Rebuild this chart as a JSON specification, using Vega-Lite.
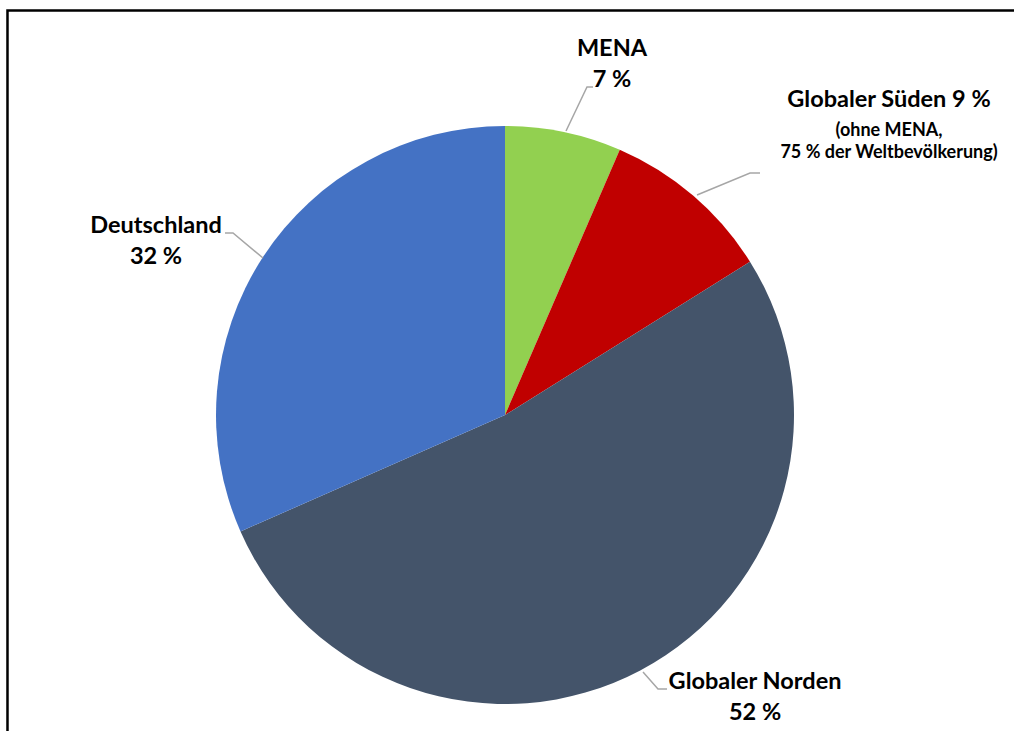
{
  "$schema": "https://vega.github.io/schema/vega-lite/v6.json",
  "width": 1014,
  "height": 731,
  "autosize": {"type": "fit", "contains": "padding"},
  "padding": 0,
  "background": "white",
  "config": {"view": {"stroke": null}},
  "datasets": {
    "slices": [
      {"region": "MENA", "share": 6.5, "ord": 1},
      {"region": "Globaler Süden", "share": 9.6, "ord": 2},
      {"region": "Globaler Norden", "share": 52.3, "ord": 3},
      {"region": "Deutschland", "share": 31.6, "ord": 4}
    ],
    "leaders": [
      {"id": "MENA", "k": 1, "u": 21.11, "v": 98.27},
      {"id": "MENA", "k": 2, "u": 28.37, "v": 113.49},
      {"id": "MENA", "k": 3, "u": 30.45, "v": 113.49},
      {"id": "Sued", "k": 1, "u": 66.44, "v": 76.12},
      {"id": "Sued", "k": 2, "u": 84.78, "v": 83.74},
      {"id": "Sued", "k": 3, "u": 88.24, "v": 83.74},
      {"id": "DE", "k": 1, "u": -96.89, "v": 62.98},
      {"id": "DE", "k": 2, "u": -94.12, "v": 62.98},
      {"id": "DE", "k": 3, "u": -83.74, "v": 54.33},
      {"id": "Nord", "k": 1, "u": 47.75, "v": -88.93},
      {"id": "Nord", "k": 2, "u": 52.94, "v": -94.81},
      {"id": "Nord", "k": 3, "u": 56.06, "v": -94.81}
    ],
    "frame": [
      {"k": 1, "u": -172.15, "v": -112},
      {"k": 2, "u": -172.15, "v": 139.97},
      {"k": 3, "u": 180, "v": 139.97}
    ],
    "labels": [
      {"t": "MENA", "u": 37.02, "v": 126.64, "big": "yes"},
      {"t": "7 %", "u": 37.02, "v": 115.92, "big": "yes"},
      {"t": "Globaler Süden 9 %", "u": 132.87, "v": 109.0, "big": "yes"},
      {"t": "(ohne MENA,", "u": 132.87, "v": 98.27, "big": "no"},
      {"t": "75 % der Weltbevölkerung)", "u": 132.87, "v": 90.66, "big": "no"},
      {"t": "Deutschland", "u": -120.76, "v": 65.40, "big": "yes"},
      {"t": "32 %", "u": -120.76, "v": 54.67, "big": "yes"},
      {"t": "Globaler Norden", "u": 86.51, "v": -92.39, "big": "yes"},
      {"t": "52 %", "u": 86.51, "v": -103.11, "big": "yes"}
    ]
  },
  "layer": [
    {
      "data": {"name": "frame"},
      "mark": {"type": "line", "stroke": "#000000", "strokeWidth": 2.5, "clip": true},
      "encoding": {
        "x": {"field": "u", "type": "quantitative", "scale": {"domain": [-174.74, 176.12], "nice": false, "zero": false}, "axis": null},
        "y": {"field": "v", "type": "quantitative", "scale": {"domain": [-109.34, 143.60], "nice": false, "zero": false}, "axis": null},
        "order": {"field": "k"}
      }
    },
    {
      "data": {"name": "slices"},
      "mark": {"type": "arc", "outerRadius": 289},
      "encoding": {
        "x": {"datum": 0, "type": "quantitative"},
        "y": {"datum": 0, "type": "quantitative"},
        "theta": {"field": "share", "type": "quantitative", "stack": true},
        "order": {"field": "ord"},
        "color": {
          "field": "region", "type": "nominal", "legend": null,
          "scale": {"domain": ["MENA", "Globaler Süden", "Globaler Norden", "Deutschland"], "range": ["#92D050", "#C00000", "#44546A", "#4472C4"]}
        }
      }
    },
    {
      "data": {"name": "leaders"},
      "mark": {"type": "line", "stroke": "#A6A6A6", "strokeWidth": 1.5},
      "encoding": {
        "x": {"field": "u", "type": "quantitative"},
        "y": {"field": "v", "type": "quantitative"},
        "detail": {"field": "id"},
        "order": {"field": "k"}
      }
    },
    {
      "data": {"name": "labels"},
      "mark": {"type": "text", "font": "Lato", "fontWeight": "bold", "align": "center", "baseline": "middle", "color": "#000000"},
      "encoding": {
        "x": {"field": "u", "type": "quantitative"},
        "y": {"field": "v", "type": "quantitative"},
        "text": {"field": "t"},
        "size": {"field": "big", "type": "nominal", "scale": {"domain": ["yes", "no"], "range": [23.5, 18]}, "legend": null}
      }
    }
  ]
}
